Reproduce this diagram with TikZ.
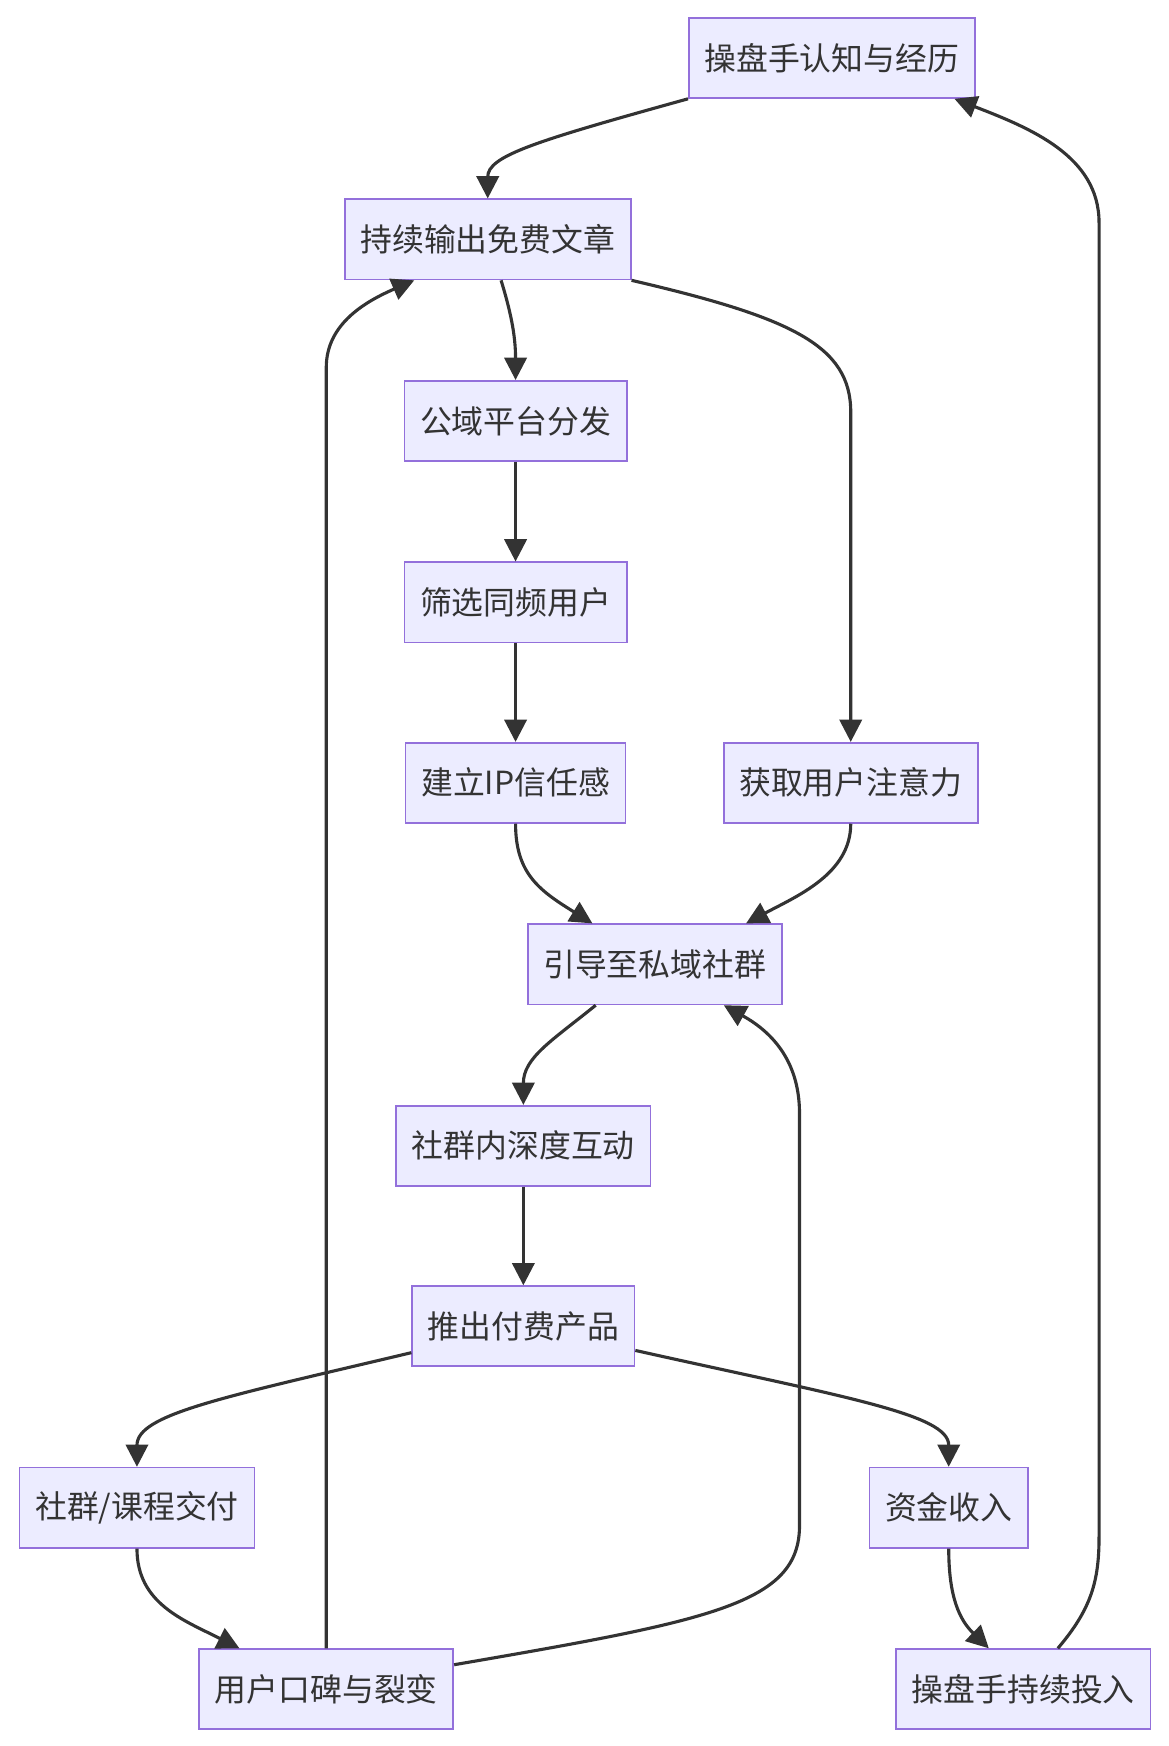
\documentclass[tikz,border=0pt]{standalone}
\usepackage{fontspec}
\newfontfamily\cjk{Noto Sans CJK SC}
\usetikzlibrary{arrows.meta,calc}
\definecolor{boxfill}{HTML}{ECECFF}
\definecolor{boxline}{HTML}{9370DB}
\definecolor{ink}{HTML}{333333}
\tikzset{
  flowbox/.style={draw=boxline,fill=boxfill,line width=0.75pt,text=ink,
    font=\cjk\fontsize{14.3}{17}\selectfont,inner xsep=7pt,inner ysep=0pt,
    minimum height=36pt},
  flow/.style={draw=ink,line width=1.4pt,-{Triangle[length=10pt,width=10pt]}}
}

\begin{document}
\begin{tikzpicture}[x=0.5pt,y=-0.5pt]
  \useasboundingbox (0,0) rectangle (1049,1568);
  \foreach \nm/\px/\py/\txt in {
    cog/747/52/操盘手认知与经历,
    art/438/215/持续输出免费文章,
    pub/463/378/公域平台分发,
    sel/463/541/筛选同频用户,
    ip/463/703/建立IP信任感,
    att/764/703/获取用户注意力,
    pri/588/866/引导至私域社群,
    act/470/1029/社群内深度互动,
    pay/470/1191/推出付费产品,
    dlv/123/1354/{社群/课程交付},
    inc/852/1354/资金收入,
    wom/293/1517/用户口碑与裂变,
    inv/919/1517/操盘手持续投入}{
    \node[flowbox] (\nm) at (\px,\py) {\txt};
  }
  \foreach \a/\b in {pub/sel, sel/ip, act/pay}
    \draw[flow] (\a.south) -- (\b.north);
  \draw[flow] (cog.south west) .. controls (480,127) and (438,140) .. (art.north);
  \draw[flow] ($(art.south)+(12,0)$) .. controls (458,278) and (463,300) .. (pub.north);
  \draw[flow] (art.south east) .. controls (710,285) and (764,310) .. (764,370) -- (att.north);
  \draw[flow] (ip.south) .. controls (463,785) and (485,800) .. ($(pri.north)+(-56,0)$);
  \draw[flow] (att.south) .. controls (764,785) and (715,805) .. ($(pri.north)+(82,0)$);
  \draw[flow] ($(pri.south)+(-53,0)$) .. controls (495,935) and (470,950) .. (act.north);
  \draw[flow] ($(pay.south west)+(0,-13)$) .. controls (200,1255) and (123,1270) .. (dlv.north);
  \draw[flow] ($(pay.south east)+(0,-15)$) .. controls (760,1255) and (852,1270) .. (inc.north);
  \draw[flow] (dlv.south) .. controls (123,1440) and (165,1455) .. ($(wom.north)+(-78,0)$);
  \draw[flow] (inc.south) .. controls (852,1435) and (862,1455) .. ($(inv.north)+(-31,0)$);
  \draw[flow] (wom.north) -- (293,330) .. controls (293,290) and (330,270) .. ($(art.south)+(-66,0)$);
  \draw[flow] ($(wom.east)+(0,-22)$) .. controls (640,1455) and (718,1440) .. (718,1370)
    -- (718,1000) .. controls (718,950) and (690,925) .. ($(pri.south)+(62,0)$);
  \draw[flow] ($(inv.north)+(31,0)$) .. controls (980,1445) and (987,1420) .. (987,1380)
    -- (987,200) .. controls (987,140) and (925,115) .. ($(cog.south east)+(-19,0)$);
\end{tikzpicture}
\end{document}
